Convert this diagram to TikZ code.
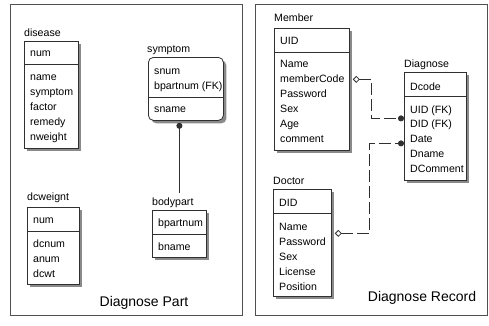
\documentclass[tikz,border=0pt]{standalone}
\usepackage{fontspec}
\setmainfont{Liberation Sans}
\usetikzlibrary{arrows.meta,shadows}
\definecolor{edgegray}{HTML}{303030}
\definecolor{shadowgray}{HTML}{8A8A8A}
\definecolor{panelgray}{HTML}{505050}
\tikzset{
  panel/.style={draw=panelgray, line width=0.9pt},
  ent/.style={
    draw=edgegray, fill=white, line width=0.8pt,
    anchor=north west, inner sep=0pt,
    drop shadow={shadow xshift=3pt, shadow yshift=-3pt, fill=shadowgray, opacity=1}
  },
  sep/.style={draw=edgegray, line width=0.8pt},
  attr/.style={anchor=base west, inner sep=0pt, font=\fontsize{10.6}{13}\selectfont},
  ttl/.style={anchor=base west, inner sep=0pt, font=\fontsize{10.6}{13}\selectfont},
  rel/.style={draw=edgegray, line width=0.8pt, dash pattern=on 12pt off 4pt},
  link/.style={draw=edgegray, line width=0.8pt}
}

\begin{document}
\begin{tikzpicture}[x=1pt,y=-1pt]
  \path[use as bounding box] (0,0) rectangle (489,325);

  \draw[panel] (10,4) rectangle (242,315);
  \draw[panel] (255,4) rectangle (487,315);

  % Diagnose Part
  \node[ent, minimum width=54pt, minimum height=107pt] (disease) at (24,41) {};
  \node[ttl] (disease-title) at ([yshift=5pt]disease.north west) {disease};
  \draw[sep] ([yshift=-23pt]disease.north west) -- ([yshift=-23pt]disease.north east);
  \node[attr] (disease-key) at ([xshift=6pt,yshift=-15pt]disease.north west) {num};
  \foreach \txt [count=\i from 0] in {name,symptom,factor,remedy,nweight}
    \node[attr] (disease-\i) at ([xshift=6pt,yshift={-39pt-15pt*\i}]disease.north west) {\txt};

  \node[ent, rounded corners=5pt, minimum width=75pt, minimum height=63pt] (symptom) at (148,57) {};
  \node[ttl] (symptom-title) at ([xshift=-1pt,yshift=5pt]symptom.north west) {symptom};
  \draw[sep] ([yshift=-40pt]symptom.north west) -- ([yshift=-40pt]symptom.north east);
  \foreach \txt [count=\i from 0] in {snum,bpartnum (FK)}
    \node[attr] (symptom-key\i) at ([xshift=6pt,yshift={-17pt-15pt*\i}]symptom.north west) {\txt};
  \node[attr] (symptom-0) at ([xshift=6pt,yshift=-55pt]symptom.north west) {sname};

  \node[ent, minimum width=52pt, minimum height=77pt] (dcweignt) at (27,207) {};
  \node[ttl] (dcweignt-title) at ([yshift=7pt]dcweignt.north west) {dcweignt};
  \draw[sep] ([yshift=-24pt]dcweignt.north west) -- ([yshift=-24pt]dcweignt.north east);
  \node[attr] (dcweignt-key) at ([xshift=6pt,yshift=-16pt]dcweignt.north west) {num};
  \foreach \txt [count=\i from 0] in {dcnum,anum,dcwt}
    \node[attr] (dcweignt-\i) at ([xshift=6pt,yshift={-40pt-15pt*\i}]dcweignt.north west) {\txt};

  \node[ent, minimum width=54pt, minimum height=47pt] (bodypart) at (152,210) {};
  \node[ttl] (bodypart-title) at ([yshift=5pt]bodypart.north west) {bodypart};
  \draw[sep] ([yshift=-24pt]bodypart.north west) -- ([yshift=-24pt]bodypart.north east);
  \node[attr] (bodypart-key) at ([xshift=6pt,yshift=-16pt]bodypart.north west) {bpartnum};
  \node[attr] (bodypart-0) at ([xshift=6pt,yshift=-40pt]bodypart.north west) {bname};

  \draw[link, -{Circle[length=6pt]}] ([yshift=4pt]bodypart-title.north -| bodypart.north)
    -- ([yshift=-2pt]bodypart.north |- symptom.south);

  \node[font=\fontsize{14}{16}\selectfont] (partlabel) at (144,303) {Diagnose Part};

  % Diagnose Record
  \node[ent, minimum width=75pt, minimum height=122pt] (member) at (274,28) {};
  \node[ttl] (member-title) at ([yshift=7pt]member.north west) {Member};
  \draw[sep] ([yshift=-24pt]member.north west) -- ([yshift=-24pt]member.north east);
  \node[attr] (member-key) at ([xshift=6pt,yshift=-16pt]member.north west) {UID};
  \foreach \txt [count=\i from 0] in {Name,memberCode,Password,Sex,Age,comment}
    \node[attr] (member-\i) at ([xshift=6pt,yshift={-39pt-15pt*\i}]member.north west) {\txt};

  \node[ent, minimum width=62pt, minimum height=108pt] (diagnose) at (404,72) {};
  \node[ttl] (diagnose-title) at ([yshift=5pt]diagnose.north west) {Diagnose};
  \draw[sep] ([yshift=-24pt]diagnose.north west) -- ([yshift=-24pt]diagnose.north east);
  \node[attr] (diagnose-key) at ([xshift=6pt,yshift=-18pt]diagnose.north west) {Dcode};
  \foreach \txt [count=\i from 0] in {UID (FK),DID (FK),Date,Dname,DComment}
    \node[attr] (diagnose-\i) at ([xshift=6pt,yshift={-41pt-14.8pt*\i}]diagnose.north west) {\txt};

  \node[ent, minimum width=58pt, minimum height=107pt] (doctor) at (273,189) {};
  \node[ttl] (doctor-title) at ([yshift=5pt]doctor.north west) {Doctor};
  \draw[sep] ([yshift=-24pt]doctor.north west) -- ([yshift=-24pt]doctor.north east);
  \node[attr] (doctor-key) at ([xshift=6pt,yshift=-17pt]doctor.north west) {DID};
  \foreach \txt [count=\i from 0] in {Name,Password,Sex,License,Position}
    \node[attr] (doctor-\i) at ([xshift=6pt,yshift={-41pt-15pt*\i}]doctor.north west) {\txt};

  \draw[rel, {Diamond[open,length=7pt,width=7pt]}-{Circle[length=6pt]}]
    ([xshift=3pt,yshift=10pt]member.east) -- ++(19,0) |- ([yshift=8pt]diagnose.west);
  \draw[rel, {Diamond[open,length=7pt,width=7pt]}-{Circle[length=6pt]}]
    ([xshift=3pt,yshift=9.5pt]doctor.east) -- ++(35,0) |- ([yshift=-17pt]diagnose.west);

  \node[font=\fontsize{14}{16}\selectfont] (recordlabel) at (422,298) {Diagnose Record};
\end{tikzpicture}
\end{document}
